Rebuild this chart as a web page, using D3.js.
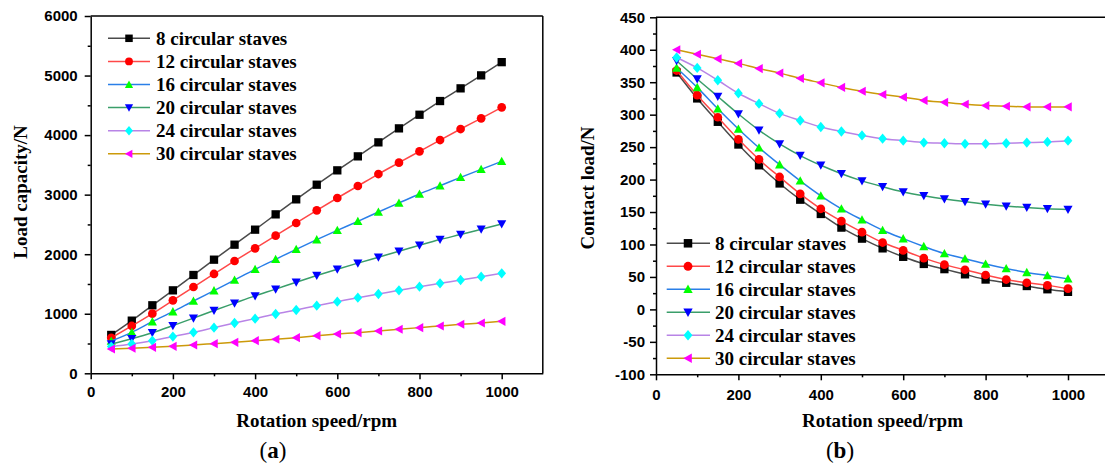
<!DOCTYPE html>
<html>
<head>
<meta charset="utf-8">
<script src="https://cdn.jsdelivr.net/npm/d3@7"></script>
<style>
  body { margin: 0; background: #fff; }
  svg { display: block; font-family: "Liberation Serif", "Times New Roman", serif; }
</style>
</head>
<body>
<svg id="chart" width="1105" height="468"></svg>
<script>
// rotation speed, rpm
const speeds = [50, 100, 150, 200, 250, 300, 350, 400, 450, 500, 550, 600, 650, 700, 750, 800, 850, 900, 950, 1000];

const seriesLabels = ['8 circular staves', '12 circular staves', '16 circular staves',
                      '20 circular staves', '24 circular staves', '30 circular staves'];

// (a) load capacity / N
const capacity8  = [644, 884, 1142, 1393, 1651, 1908, 2160, 2412, 2669, 2921, 3167, 3408, 3643, 3878, 4113, 4342, 4572, 4785, 5003, 5225];
const capacity12 = [595, 795, 1002, 1225, 1449, 1668, 1886, 2098, 2311, 2524, 2736, 2944, 3145, 3346, 3537, 3727, 3917, 4102, 4281, 4466];
const capacity16 = [543, 688, 867, 1035, 1214, 1388, 1567, 1746, 1914, 2082, 2244, 2401, 2552, 2708, 2860, 3011, 3150, 3290, 3425, 3559];
const capacity20 = [492, 580, 680, 800, 926, 1055, 1178, 1300, 1413, 1530, 1642, 1748, 1850, 1950, 2050, 2150, 2246, 2330, 2418, 2507];
const capacity24 = [448, 492, 548, 616, 688, 767, 845, 918, 996, 1063, 1136, 1203, 1270, 1332, 1393, 1455, 1511, 1567, 1623, 1679];
const capacity30 = [408, 420, 436, 453, 476, 498, 520, 548, 571, 599, 632, 660, 683, 711, 739, 767, 795, 823, 845, 873];

// (b) contact load / N
const contact8  = [365, 325, 289, 254, 222, 194, 169, 147, 126, 109, 94, 81, 70, 62, 54, 46, 41, 36, 31, 27];
const contact12 = [368, 330, 296, 262, 231, 204, 178, 155, 136, 119, 103, 91, 79, 69, 61, 53, 46, 41, 37, 32];
const contact16 = [372, 342, 309, 278, 249, 223, 198, 175, 155, 138, 122, 109, 97, 86, 78, 70, 63, 57, 52, 47];
const contact20 = [383, 355, 328, 301, 276, 255, 237, 222, 209, 198, 189, 181, 175, 170, 166, 162, 159, 157, 155, 154];
const contact24 = [388, 372, 353, 333, 317, 302, 291, 281, 274, 268, 263, 260, 257, 256, 255, 255, 256, 257, 258, 260];
const contact30 = [400, 393, 386, 379, 371, 364, 356, 349, 342, 336, 331, 327, 322, 319, 316, 314, 313, 312, 312, 312];

const lineColors   = ['#4a4a4a', '#ff4848', '#2a7fe8', '#3a9e6a', '#b884e6', '#cc9a0a'];
const markerColors = ['#000000', '#ff0000', '#00ff00', '#0000ff', '#00ffff', '#ff00ff'];
const markerShapes = ['square', 'circle', 'triUp', 'triDown', 'diamond', 'triLeft'];

function markerPath(shape, s) {
    const h = s / 2;
    switch (shape) {
        case 'square':  return `M${-h},${-h}H${h}V${h}H${-h}Z`;
        case 'circle':  return d3.symbol(d3.symbolCircle, Math.PI * h * h * 1.1)();
        case 'triUp':   return `M0,${-h * 1.1}L${h * 1.1},${h * 0.9}L${-h * 1.1},${h * 0.9}Z`;
        case 'triDown': return `M0,${h * 1.1}L${h * 1.1},${-h * 0.9}L${-h * 1.1},${-h * 0.9}Z`;
        case 'triLeft': return `M${-h * 1.1},0L${h * 0.9},${-h * 1.1}L${h * 0.9},${h * 1.1}Z`;
        case 'diamond': return `M0,${-h * 1.25}L${h * 1.05},0L0,${h * 1.25}L${-h * 1.05},0Z`;
    }
}

const svg = d3.select('#chart');

const panels = [
    {
        series: [capacity8, capacity12, capacity16, capacity20, capacity24, capacity30],
        xRange: [90.7, 542.8], yRange: [373.3, 16],
        yDomain: [0, 6000],
        yMajor: [0, 1000, 2000, 3000, 4000, 5000, 6000],
        yMinor: [500, 1500, 2500, 3500, 4500, 5500],
        yPad: 7, xPad: 7,
        yTitle: 'Load capacity/N', yTitleX: 27, yTitleY: 192,
        xTitleX: 316.7, tag: 'a', tagX: 273,
        legend: { x0: 108, x1: 150, mx: 129, tx: 156, y: 38.3, dy: 23.1, ms: 7.5 },
        rightFrame: true
    },
    {
        series: [contact8, contact12, contact16, contact20, contact24, contact30],
        xRange: [656, 1109.2], yRange: [374.3, 17.3],
        yDomain: [-100, 450],
        yMajor: [-100, -50, 0, 50, 100, 150, 200, 250, 300, 350, 400, 450],
        yMinor: [-75, -25, 25, 75, 125, 175, 225, 275, 325, 375, 425],
        yPad: 5, xPad: 9,
        yTitle: 'Contact load/N', yTitleX: 594, yTitleY: 188,
        xTitleX: 882.5, tag: 'b', tagX: 840,
        legend: { x0: 666.7, x1: 710, mx: 688, tx: 715, y: 243.3, dy: 23, ms: 8.5 },
        rightFrame: false
    }
];

panels.forEach(p => {
    const x = d3.scaleLinear().domain([0, 1100]).range(p.xRange);
    const y = d3.scaleLinear().domain(p.yDomain).range(p.yRange);
    const g = svg.append('g');

    // frame
    g.append('line')
        .attr('x1', p.xRange[0]).attr('x2', p.xRange[1])
        .attr('y1', p.yRange[1]).attr('y2', p.yRange[1])
        .style('stroke', '#000').style('stroke-width', 1.5);
    if (p.rightFrame) {
        g.append('line')
            .attr('x1', p.xRange[1]).attr('x2', p.xRange[1])
            .attr('y1', p.yRange[0]).attr('y2', p.yRange[1])
            .style('stroke', '#000').style('stroke-width', 1.5);
    }

    // axes
    const xAxis = g.append('g').attr('transform', `translate(0,${p.yRange[0]})`)
        .call(d3.axisBottom(x).tickValues([0, 200, 400, 600, 800, 1000])
            .tickSize(6).tickSizeOuter(0).tickPadding(p.xPad).tickFormat(d => String(d)));
    g.append('g').attr('transform', `translate(0,${p.yRange[0]})`)
        .call(d3.axisBottom(x).tickValues([100, 300, 500, 700, 900])
            .tickSize(3).tickSizeOuter(0).tickFormat(''))
        .call(a => a.select('.domain').remove());

    const yAxis = g.append('g').attr('transform', `translate(${p.xRange[0]},0)`)
        .call(d3.axisLeft(y).tickValues(p.yMajor)
            .tickSize(6).tickSizeOuter(0).tickPadding(p.yPad).tickFormat(d => String(d)));
    g.append('g').attr('transform', `translate(${p.xRange[0]},0)`)
        .call(d3.axisLeft(y).tickValues(p.yMinor)
            .tickSize(3).tickSizeOuter(0).tickFormat(''))
        .call(a => a.select('.domain').remove());

    g.selectAll('.domain, .tick line').style('stroke', '#000').style('stroke-width', 1.5);
    [xAxis, yAxis].forEach(a => a.selectAll('text')
        .attr('font-family', null)
        .style('font-size', '15px').style('font-weight', 'bold').style('fill', '#000'));

    // series
    const line = d3.line()
        .x((d, i) => x(speeds[i]))
        .y(d => y(d))
        .curve(d3.curveMonotoneX);

    p.series.forEach((vals, si) => {
        g.append('path')
            .attr('d', line(vals))
            .style('fill', 'none')
            .style('stroke', lineColors[si])
            .style('stroke-width', 1.5);
        g.selectAll(`.m${si}`)
            .data(vals)
            .join('path')
            .attr('class', `m${si}`)
            .attr('transform', (d, i) => `translate(${x(speeds[i])},${y(d)})`)
            .attr('d', markerPath(markerShapes[si], 8.3))
            .style('fill', markerColors[si]);
    });

    // legend
    const L = p.legend;
    const leg = g.selectAll('.leg').data(seriesLabels).join('g')
        .attr('class', 'leg')
        .attr('transform', (d, i) => `translate(0,${L.y + i * L.dy})`);
    leg.append('line')
        .attr('x1', L.x0).attr('x2', L.x1)
        .style('stroke', (d, i) => lineColors[i]).style('stroke-width', 1.5);
    leg.append('path')
        .attr('transform', `translate(${L.mx},0)`)
        .attr('d', (d, i) => markerPath(markerShapes[i], L.ms))
        .style('fill', (d, i) => markerColors[i]);
    leg.append('text')
        .attr('x', L.tx).attr('y', 6.5)
        .style('font-size', '19px').style('font-weight', 'bold')
        .text(d => d);

    // titles
    g.append('text')
        .attr('x', p.xTitleX).attr('y', 427)
        .attr('text-anchor', 'middle')
        .style('font-size', '19px').style('font-weight', 'bold')
        .text('Rotation speed/rpm');
    g.append('text')
        .attr('transform', `translate(${p.yTitleX},${p.yTitleY}) rotate(-90)`)
        .attr('text-anchor', 'middle')
        .style('font-size', '19px').style('font-weight', 'bold')
        .text(p.yTitle);

    const tag = g.append('text')
        .attr('x', p.tagX).attr('y', 458)
        .attr('text-anchor', 'middle')
        .style('font-size', '23px');
    tag.append('tspan').text('(');
    tag.append('tspan').style('font-weight', 'bold').text(p.tag);
    tag.append('tspan').text(')');
});
</script>
</body>
</html>
